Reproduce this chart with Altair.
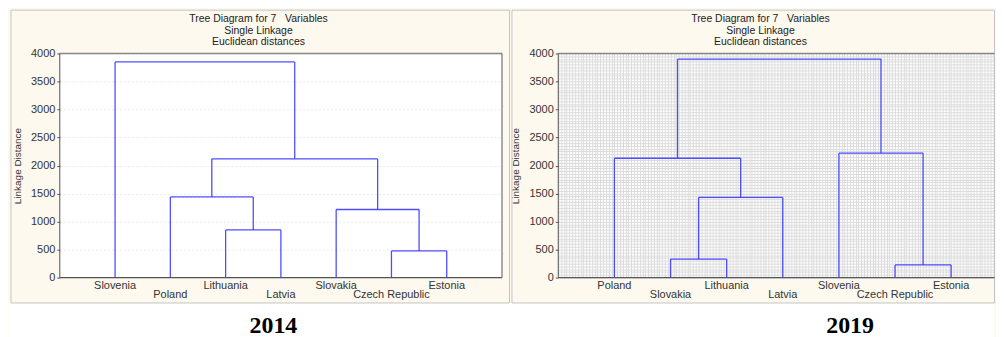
import altair as alt
import numpy as np
import pandas as pd

# ---------------- data ----------------
title_lines = ["Tree Diagram for 7\u00a0\u00a0\u00a0Variables", "Single Linkage", "Euclidean distances"]
y_title = "Linkage Distance"
y_ticks = [0, 500, 1000, 1500, 2000, 2500, 3000, 3500, 4000]

leaves_2014 = ["Slovenia", "Poland", "Lithuania", "Latvia", "Slovakia", "Czech Republic", "Estonia"]
merge_a_2014 = [2, 5, 1, 4, 9, 0]
merge_b_2014 = [3, 6, 7, 8, 10, 11]
merge_h_2014 = [850, 475, 1440, 1215, 2120, 3850]

leaves_2019 = ["Poland", "Slovakia", "Lithuania", "Latvia", "Slovenia", "Czech Republic", "Estonia"]
merge_a_2019 = [1, 5, 7, 0, 4, 10]
merge_b_2019 = [2, 6, 3, 9, 8, 11]
merge_h_2019 = [330, 225, 1430, 2130, 2220, 3900]

years = ["2014", "2019"]

# ---------------- styling ----------------
CREAM = "#fdf9ef"
BLUE = "#3b3bff"
FONT = "Liberation Sans"
H = 225


def segments(leaves, ma, mb, mh):
    n = len(leaves)
    xs = {i: i + 1 for i in range(n)}
    hs = {i: 0 for i in range(n)}
    rows = []
    for k, (a, b, h) in enumerate(zip(ma, mb, mh)):
        xa, xb = xs[a], xs[b]
        rows.append(dict(x=xa, x2=xa, y=hs[a], y2=h))
        rows.append(dict(x=xb, x2=xb, y=hs[b], y2=h))
        rows.append(dict(x=xa, x2=xb, y=h, y2=h))
        xs[n + k] = (xa + xb) / 2
        hs[n + k] = h
    return pd.DataFrame(rows)


one = pd.DataFrame({"a": [0]})


def box(x, x2, y, y2, **kw):
    return alt.Chart(one).mark_rect(**kw).encode(
        x=alt.value(x), x2=alt.value(x2), y=alt.value(y), y2=alt.value(y2)
    )


def rule(x, x2, y, y2, **kw):
    return alt.Chart(one).mark_rule(**kw).encode(
        x=alt.value(x), x2=alt.value(x2), y=alt.value(y), y2=alt.value(y2)
    )


def panel(leaves, ma, mb, mh, year, W, xmax, L, R, gapR, dense, title_x, year_x, right_border):
    seg = segments(leaves, ma, mb, mh)
    xscale = alt.Scale(domain=[0, xmax], nice=False, zero=False)
    yscale = alt.Scale(domain=[0, 4000], nice=False)
    TOP, BOT = -43.5, H + 25.5

    common_y = dict(
        title=y_title, titleFont=FONT, titleFontSize=10, titleFontWeight="normal",
        titleColor="#333", titlePadding=8, format="d",
        labelFont=FONT, labelFontSize=11, labelColor="#333", labelPadding=2,
        tickSize=3, tickColor="#555", domain=False,
    )
    if dense:
        yaxis = alt.Axis(
            values=list(range(0, 4001, 50)),
            labelExpr="datum.value % 500 == 0 ? datum.label : ''",
            tickOpacity={"condition": {"test": "datum.value % 500 == 0", "value": 1}, "value": 0},
            grid=True, gridColor="#dcdcdc", gridWidth=1, **common_y,
        )
        xaxis = alt.Axis(
            values=[round(v, 3) for v in np.arange(0, xmax, 0.05)],
            labels=False, ticks=False, domain=False, grid=True,
            gridColor="#dcdcdc", gridWidth=1, title=None,
        )
    else:
        yaxis = alt.Axis(values=y_ticks, grid=True, gridColor="#ebebeb", gridDash=[2, 2], **common_y)
        xaxis = alt.Axis(labels=False, ticks=False, domain=False, grid=False, title=None)

    layers = [
        box(-L - 2, W + gapR, BOT, BOT + 35, color="white"),
        box(-L + 0.5, W + R, TOP, BOT, fill="transparent", stroke="#c4c4c4", strokeWidth=1),
        rule(0, 0, 0, H, color="#555", strokeWidth=1),
        rule(0, W, 0, 0, color="#888", strokeWidth=1.5),
        rule(0, W, H, H, color="#555", strokeWidth=1.2),
    ]
    if right_border:
        layers.append(rule(W, W, 0, H, color="#555", strokeWidth=1))

    dendro = alt.Chart(seg).mark_rule(color=BLUE, strokeWidth=1.3, opacity=0.9).encode(
        x=alt.X("x:Q", scale=xscale, axis=xaxis),
        x2="x2:Q",
        y=alt.Y("y:Q", scale=yscale, axis=yaxis),
        y2="y2:Q",
    )
    layers.append(dendro)

    lab = pd.DataFrame({"name": leaves, "pos": list(range(1, len(leaves) + 1))})
    lab["row"] = (lab["pos"] + 1) % 2
    for r, yy in ((0, H + 8.5), (1, H + 17.8)):
        t = alt.Chart(lab).transform_filter(f"datum.row == {r}").mark_text(
            font=FONT, fontSize=11, color="#333", baseline="middle", align="center"
        ).encode(
            x=alt.X("pos:Q", scale=xscale,
                    axis=alt.Axis(orient="top", values=list(range(1, 8)), labels=False,
                                  ticks=True, tickSize=3, tickColor="#555", domain=False,
                                  grid=False, title=None)),
            y=alt.value(yy),
            text="name:N",
        )
        layers.append(t)

    layers.append(
        alt.Chart(one).mark_text(font=FONT, fontSize=10.5, color="#222", baseline="top",
                                 align="center", lineHeight=11.6).encode(
            x=alt.value(title_x), y=alt.value(-39.5), text=alt.value(title_lines)
        )
    )
    layers.append(
        alt.Chart(one).mark_text(font="Liberation Serif", fontSize=24, fontWeight="bold",
                                 color="#000", baseline="middle", align="center").encode(
            x=alt.value(year_x), y=alt.value(H + 48.5), text=alt.value(year)
        )
    )
    layers.append(box(-L, -L + 1, TOP, TOP + 1, opacity=0))
    return alt.layer(*layers).properties(width=W, height=H)


left = panel(leaves_2014, merge_a_2014, merge_b_2014, merge_h_2014, years[0],
             W=444, xmax=8, L=49.5, R=7.5, gapR=57, dense=False, title_x=199.5, year_x=214.5,
             right_border=True)
right = panel(leaves_2019, merge_a_2019, merge_b_2019, merge_h_2019, years[1],
              W=438, xmax=438 / 56.35, L=47, R=0, gapR=0, dense=True, title_x=203, year_x=293,
              right_border=False)

chart = alt.hconcat(left, right, spacing=56.5, bounds="flush", padding=0,
                    background=CREAM).configure_view(fill="white", stroke="transparent")

chart.save("out.html", embed_options={"renderer": "svg", "actions": False})
